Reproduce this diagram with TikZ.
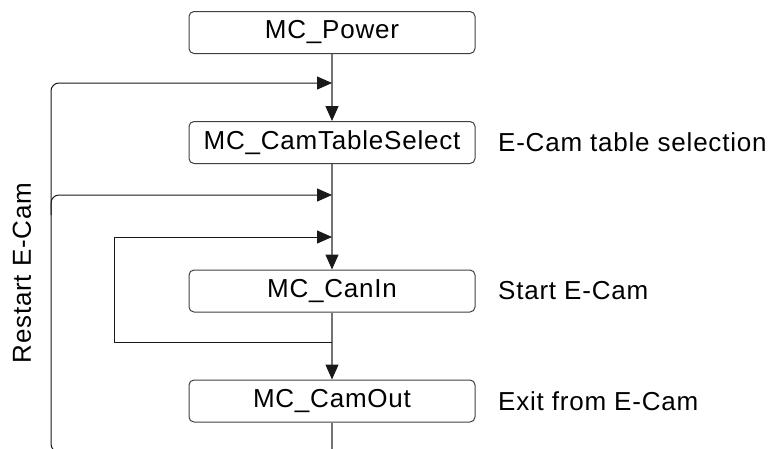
\documentclass[tikz,border=0pt]{standalone}
\usepackage{fontspec}
\setmainfont{Liberation Sans}[LetterSpace=3]
\usetikzlibrary{arrows.meta}

\tikzset{
  fbox/.style={draw=black!75, line width=1pt, rounded corners=5, minimum width=286, minimum height=42, inner sep=0pt, font=\fontsize{26}{30}\selectfont},
  note/.style={anchor=west, inner sep=0pt, font=\fontsize{26}{30}\selectfont},
  mainline/.style={draw=black!55, line width=1.4pt},
  loopline/.style={draw=black!90, line width=1pt},
  tip/.style={-{Triangle[length=15,width=13,color=black!90]}}
}

\begin{document}
\begin{tikzpicture}[x=1pt,y=-1pt]
	
	\useasboundingbox (0,0) rectangle (769,448);
	
	% Bloques
	\node[fbox] (power) at (332,32.5) {MC\_Power};
	\node[fbox] (select) at (332,142.5) {MC\_CamTableSelect};
	\node[fbox] (canin) at (332,291) {MC\_CanIn};
	\node[fbox] (camout) at (332,401) {MC\_CamOut};
	
	% Textos
	\node[note] (tselect) at (498,142) {E-Cam table selection};
	\node[note] (tcanin) at (498,291) {Start E-Cam};
	\node[note] (tcamout) at (498,401) {Exit from E-Cam};
	\node[rotate=90, inner sep=0pt, font=\fontsize{26}{30}\selectfont] (restart) at (22,273) {Restart E-Cam};
	
	% Puntos de union
	\coordinate (j1) at (332,83);
	\coordinate (j2) at (332,195);
	\coordinate (j3) at (332,237);
	\coordinate (j4) at (332,342);
	\coordinate (bot) at (332,452);
	
	% Linea principal
	\draw[mainline] (power) -- (j1);
	\draw[mainline, tip] (j1) -- (select);
	\draw[mainline] (select) -- (j3);
	\draw[mainline, tip] (j3) -- (canin);
	\draw[mainline] (canin) -- (j4);
	\draw[mainline, tip] (j4) -- (camout);
	\draw[mainline] (camout) -- (bot);
	
	% Lazo exterior
	\draw[loopline, tip, rounded corners=8] (bot) -- (51,452) -- (51,83) -- (j1);
	\draw[loopline, tip, rounded corners=8] (51,215) -- (51,195) -- (j2);
	
	% Lazo interior
	\draw[loopline, tip] (j4) -- (114,342) -- (114,237) -- (j3);
	
\end{tikzpicture}
\end{document}
